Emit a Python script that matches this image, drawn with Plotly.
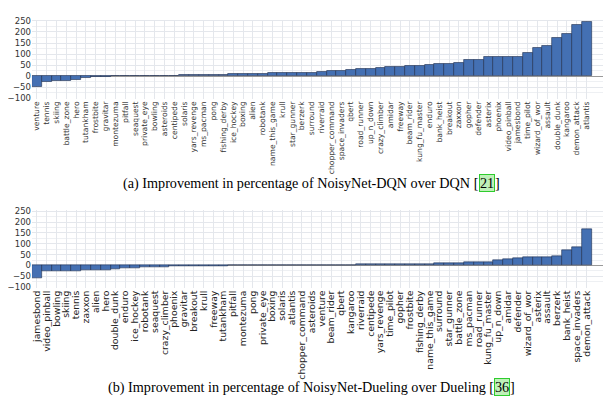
import plotly.graph_objects as go

# ── data: improvement in percentage ─────────────────────────────────────────

dqn_games = [
    "venture", "tennis", "skiing", "battle_zone", "hero", "tutankham", "frostbite",
    "gravitar", "montezuma", "pitfall", "seaquest", "private_eye", "bowling",
    "asteroids", "centipede", "solaris", "yars_revenge", "ms_pacman", "pong",
    "fishing_derby", "ice_hockey", "boxing", "alien", "robotank", "name_this_game",
    "krull", "star_gunner", "berzerk", "surround", "riverraid", "chopper_command",
    "space_invaders", "qbert", "road_runner", "up_n_down", "crazy_climber", "amidar",
    "freeway", "beam_rider", "kung_fu_master", "enduro", "bank_heist", "breakout",
    "zaxxon", "gopher", "defender", "asterix", "phoenix", "video_pinball",
    "jamesbond", "time_pilot", "wizard_of_wor", "assault", "double_dunk",
    "kangaroo", "demon_attack", "atlantis",
]
dqn_improvement = [
    -50, -26, -23, -20, -17, -8, -4,
    -1, 0, 0, 0, 0.5, 1,
    2, 3, 4, 5, 6, 7,
    8, 9, 10, 11, 12, 13,
    14, 15, 16, 17, 18, 22,
    25, 28, 32, 35, 38, 42,
    44, 46, 48, 50, 55, 58,
    60, 73, 75, 86, 87, 87,
    88, 104, 129, 138, 173,
    192, 232, 245,
]

dueling_games = [
    "jamesbond", "video_pinball", "bowling", "skiing", "tennis", "zaxxon", "alien",
    "hero", "double_dunk", "enduro", "ice_hockey", "robotank", "seaquest",
    "crazy_climber", "phoenix", "gravitar", "breakout", "krull", "freeway",
    "tutankham", "pitfall", "montezuma", "pong", "private_eye", "boxing", "solaris",
    "atlantis", "chopper_command", "asteroids", "venture", "beam_rider", "qbert",
    "kangaroo", "riverraid", "centipede", "yars_revenge", "time_pilot", "gopher",
    "frostbite", "fishing_derby", "name_this_game", "surround", "star_gunner",
    "battle_zone", "ms_pacman", "road_runner", "kung_fu_master", "up_n_down",
    "amidar", "defender", "wizard_of_wor", "asterix", "assault", "berzerk",
    "bank_heist", "space_invaders", "demon_attack",
]
dueling_improvement = [
    -58, -28, -28, -27, -26, -22, -21,
    -20, -18, -12, -11, -10, -7,
    -6, -5, -4, -3, -2, -1,
    -1, 0, 0, 0, 0.5, 1, 1,
    1.5, 2, 2, 2, 3, 3,
    3, 4, 4, 4, 5, 6,
    6, 7, 8, 9, 10,
    11, 14, 15, 16, 24,
    28, 32, 36, 38, 40, 43,
    72, 84, 168,
]

y_ticks = [-100, -50, 0, 50, 100, 150, 200, 250]

BAR_COLOR = "#4470b3"
EDGE_COLOR = "#1e2d4d"
GRID = "#e4e7ec"

fig = go.Figure()

fig.add_trace(go.Bar(
    x=dqn_games, y=dqn_improvement,
    marker=dict(color=BAR_COLOR, line=dict(color=EDGE_COLOR, width=0.6)),
    width=1.0, xaxis="x", yaxis="y", showlegend=False,
))
fig.add_trace(go.Bar(
    x=dueling_games, y=dueling_improvement,
    marker=dict(color=BAR_COLOR, line=dict(color=EDGE_COLOR, width=0.6)),
    width=1.0, xaxis="x2", yaxis="y2", showlegend=False,
))

x_common = dict(
    type="category",
    range=[-0.5, 59.3],
    domain=[23 / 611, 1.0],
    tickangle=-90,
    showgrid=True, gridcolor=GRID, gridwidth=1,
    ticks="", showline=False, zeroline=False,
)
y_common = dict(
    range=[-103, 255],
    tickvals=y_ticks,
    showgrid=True, gridcolor=GRID, gridwidth=1,
    minor=dict(dtick=25, showgrid=True, gridcolor="#eef0f3"),
    zeroline=True, zerolinecolor="#9a9a9a", zerolinewidth=1,
    ticks="", showline=False,
    tickfont=dict(family="DejaVu Sans", size=8.5, color="#333333"),
)

fig.update_layout(
    width=611, height=399,
    margin=dict(l=0, r=0, t=0, b=0),
    paper_bgcolor="white", plot_bgcolor="white",
    bargap=0,
    xaxis=dict(x_common, anchor="y", tickmode="array",
               tickvals=dqn_games, ticktext=dqn_games,
               tickfont=dict(family="DejaVu Sans", size=7.6, color="#333333")),
    yaxis=dict(y_common, anchor="x", domain=[0.7777, 0.980]),
    xaxis2=dict(x_common, anchor="y2", tickmode="array",
                tickvals=dueling_games, ticktext=dueling_games,
                tickfont=dict(family="DejaVu Sans", size=9.3, color="#222222")),
    yaxis2=dict(y_common, anchor="x2", domain=[0.2947, 0.4932]),
)


def caption(text, ref, x_px, ref_w, y_px):
    # caption text, then the citation number in a green box, then the closing bracket
    font = dict(family="Liberation Serif", size=14.2, color="black")
    y = (399 - y_px) / 399
    common = dict(y=y, xref="paper", yref="paper", yanchor="middle", showarrow=False, font=font)
    fig.add_annotation(text=text + " [", x=x_px / 611, xanchor="right",
                       borderpad=0, borderwidth=0, **common)
    fig.add_annotation(text=ref, x=x_px / 611, xanchor="left",
                       bgcolor="#bff0b8", bordercolor="#2ecc2e", borderwidth=1, borderpad=0,
                       **common)
    fig.add_annotation(text="]", x=(x_px + ref_w) / 611, xanchor="left",
                       borderpad=0, borderwidth=0, **common)


caption("(a) Improvement in percentage of NoisyNet-DQN over DQN", "21", 471, 16, 175)
caption("(b) Improvement in percentage of NoisyNet-Dueling over Dueling", "36", 486, 16, 383)

fig.write_html("out.html")
